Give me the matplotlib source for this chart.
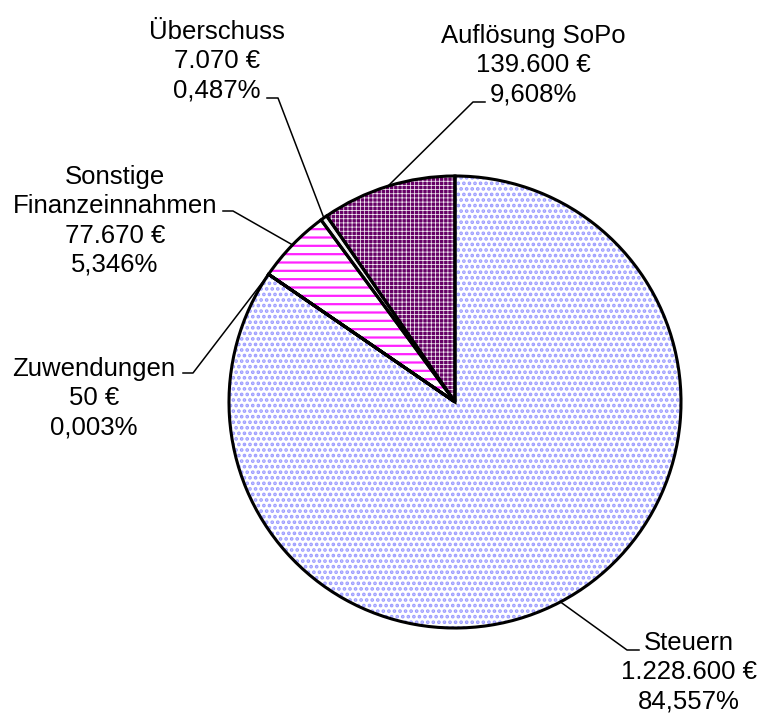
import matplotlib.pyplot as plt
import numpy as np

plt.rcParams['font.family'] = ['Liberation Sans', 'DejaVu Sans']

kategorien = ["Steuern", "Zuwendungen", "Sonstige\nFinanzeinnahmen", "Überschuss", "Auflösung SoPo"]
betraege = [1228600, 50, 77670, 7070, 139600]

faces = ["white", "white", "white", "#f0f0f0", "#660066"]
hatch_farben = ["#9c9cff", "white", "#ff22ff", "#f0f0f0", "#f4eef4"]
hatches = ["...", "", "--", "", "++++"]
hatch_lw = [1.8, 1.0, 1.6, 1.0, 0.55]
explode = [0, 0, 0, 0.08, 0]

# Layout (Pixel, y von oben)
W, H = 760, 716
mitte = (455, H - 402)
radius = 226
text_pos = [(689, 672), (94, 398), (115, 221), (217, 61), (533, 65)]
knick = [((639, 650), (627, 650)),
         ((183, 373), (193, 373)),
         ((223, 211), (233, 211)),
         ((267, 98), (278, 98)),
         ((485, 102), (473, 102))]

fig = plt.figure(figsize=(7.6, 7.16), dpi=100)
ax = fig.add_axes([0, 0, 1, 1])

gesamt = sum(betraege)

wedges, _ = ax.pie(betraege, startangle=90, counterclock=False, center=mitte,
                   radius=radius, explode=explode, wedgeprops=dict(linewidth=0))
for w, fc, hc, h, hl in zip(wedges, faces, hatch_farben, hatches, hatch_lw):
    w.set_facecolor(fc)
    w.set_edgecolor(hc)
    w.set_hatch(h)
    w.set_linewidth(0)
    if hasattr(w, "set_hatch_linewidth"):
        w.set_hatch_linewidth(hl)

ax.pie(betraege, startangle=90, counterclock=False, center=mitte, radius=radius,
       explode=explode, wedgeprops=dict(fill=False, edgecolor="black", linewidth=2.2))

for i, w in enumerate(wedges):
    prozent = betraege[i] / gesamt * 100
    txt = "%s\n%s €\n%s%%" % (kategorien[i], f"{betraege[i]:,}".replace(",", "."),
                              f"{prozent:.3f}".replace(".", ","))
    x, y = text_pos[i]
    ax.text(x, H - y, txt, ha="center", va="center", fontsize=18.5, linespacing=1.27)

    ang = np.deg2rad((w.theta1 + w.theta2) / 2)
    px = w.center[0] + w.r * np.cos(ang)
    py = w.center[1] + w.r * np.sin(ang)
    (ax0, ay0), (ax1, ay1) = knick[i]
    ax.plot([ax0, ax1, px], [H - ay0, H - ay1, py], color="black", linewidth=1.1)

ax.set_xlim(0, W)
ax.set_ylim(0, H)
ax.set_aspect("auto")
ax.axis("off")

fig.savefig("out.png", dpi=100)
